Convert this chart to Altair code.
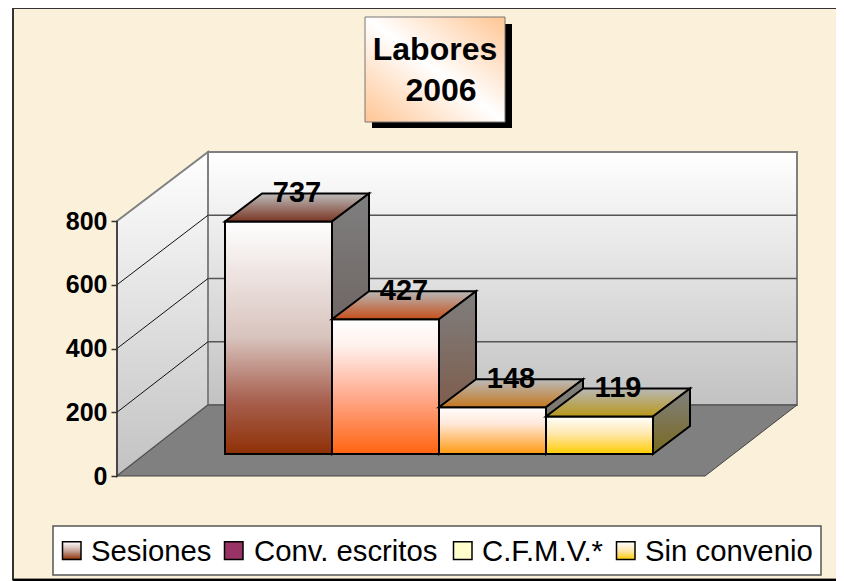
import altair as alt
import pandas as pd

categories = ["Sesiones", "Conv. escritos", "C.F.M.V.*", "Sin convenio"]
shown_labels = ["737", "427", "148", "119"]
values = [737, 427, 148, 119]
ticks = [0, 200, 400, 600, 800]

FONT = "Liberation Sans"
W, H = 828, 573
PX = 800 / 255  # value units per pixel
V_BOTTOM = (476 - 581) * PX
V_TOP = (476 - 8) * PX
xs = alt.Scale(domain=[8, 836], range=[0, W], nice=False, zero=False)
ys = alt.Scale(domain=[V_BOTTOM, V_TOP], nice=False, zero=False)
AX = alt.Axis(values=ticks, offset=-109, domain=False, grid=False, zindex=1, tickColor="#333333",
              tickSize=6, tickWidth=1.5, labelFont=FONT, labelFontWeight="bold", labelFontSize=25,
              labelColor="black", labelPadding=4, labelOverlap=False, title=None)
NX = alt.X("x:Q", scale=xs, axis=None)
NY = alt.Y("y:Q", scale=ys, axis=AX)
X0, BAND, BASE = 225, 107, (476 - 454) * PX
BDX, BDV = 37, 28 * PX
DEPTH_SHRINK = 0.99  # bars stand further back than the front axis
back = lambda v: 71 * PX + v * 253 / 255


def grad(*stops, x1=0, y1=0, x2=0, y2=1):
    return {"gradient": "linear", "x1": x1, "y1": y1, "x2": x2, "y2": y2,
            "stops": [{"offset": o, "color": c} for o, c in stops]}


def vert(rows, fill, stroke, sw=2):
    df = pd.DataFrame(rows, columns=["x", "y", "y2"])
    return alt.Chart(df).mark_area(orient="vertical", fill=fill, stroke=stroke, strokeWidth=sw,
                                   strokeJoin="miter", line=False).encode(x=NX, y=NY, y2="y2:Q")


def horiz(rows, fill, stroke, sw=2):
    df = pd.DataFrame(rows, columns=["y", "x", "x2"])
    return alt.Chart(df).mark_area(orient="horizontal", fill=fill, stroke=stroke, strokeWidth=sw,
                                   strokeJoin="miter", line=False).encode(y=NY, x=NX, x2="x2:Q")


one = pd.DataFrame({"k": [0]})


def box(x, x2, y, y2, **kw):
    return alt.Chart(one).mark_rect(**kw).encode(
        x=alt.value(x - 8), x2=alt.value(x2 - 8), y=alt.value(y - 8), y2=alt.value(y2 - 8))


def label(t, x, y, size, weight="normal", align="left"):
    return alt.Chart(one).mark_text(text=t, font=FONT, fontSize=size, fontWeight=weight, align=align,
                                    baseline="alphabetic", color="black").encode(
        x=alt.value(x - 8), y=alt.value(y - 8))


layers = []

# Frame
layers.append(box(13, 870, 8, 579.5, fill="#FBF0DA", stroke="#333333", strokeWidth=2))
layers.append(box(13, 870, 579, 581, fill="#000000"))

# Back wall, left wall and floor
wall_fill = grad((0, "#ffffff"), (1, "#c2c2c2"))
layers.append(vert([[208, back(800), back(0)], [797, back(800), back(0)]], wall_fill, "#808080", 2))
layers.append(vert([[117, 800, 0], [208, back(800), back(0)]], wall_fill, "#808080", 2))
grid = pd.DataFrame(
    [{"x": 208, "y": back(t), "t": t} for t in ticks[1:-1]] + [{"x": 797, "y": back(t), "t": t} for t in ticks[1:-1]]
)
layers.append(alt.Chart(grid).mark_line(color="#555555", strokeWidth=1.5).encode(x=NX, y=NY, detail="t:N"))
grid2 = pd.DataFrame(
    [{"x": 117, "y": t, "t": t} for t in ticks[1:-1]] + [{"x": 208, "y": back(t), "t": t} for t in ticks[1:-1]]
)
layers.append(alt.Chart(grid2).mark_line(color="#111111", strokeWidth=1).encode(x=NX, y=NY, detail="t:N"))
layers.append(horiz([[0, 117, 705], [back(0), 208, 797]], "#808080", "#444444", 1))
axis_df = pd.DataFrame({"x": [117, 117], "y": [0, 800]})
layers.append(alt.Chart(axis_df).mark_line(color="#333333", strokeWidth=1.5).encode(x=NX, y=NY))

# Bars
faces = [
    (grad((0, "#ffffff"), (.5, "#d8c3bd"), (.77, "#a8604f"), (1, "#8f3006")),
     grad((0, "#bdbdbd"), (1, "#7a3624")), grad((0, "#7f7f7f"), (1, "#5f4d48"))),
    (grad((0, "#ffffff"), (.2, "#fff0ec"), (.6, "#ffa585"), (1, "#ff6410")),
     grad((0, "#b8b8b8"), (1, "#c64f1a")), grad((0, "#7f7f7f"), (1, "#7e5038"))),
    (grad((0, "#ffffff"), (.35, "#ffe8da"), (1, "#ff9a10")),
     grad((0, "#bbbbbb"), (1, "#c4771f")), grad((0, "#808080"), (1, "#7a6a55"))),
    (grad((0, "#ffffff"), (.45, "#ffe8b0"), (1, "#ffcc00")),
     grad((0, "#b8b8b8"), (1, "#b8981a")), grad((0, "#808080"), (1, "#7a6a20"))),
]
for i, (cat, v) in enumerate(zip(categories, values)):
    l, r = X0 + i * BAND, X0 + (i + 1) * BAND
    top_v = BASE + v * DEPTH_SHRINK
    front, top, side = faces[i]
    layers.append(vert([[l, top_v, BASE], [r, top_v, BASE]], front, "black"))
    layers.append(horiz([[top_v, l, r], [top_v + BDV, l + BDX, r + BDX]], top, "black"))
    layers.append(vert([[r, top_v, BASE], [r + BDX, top_v + BDV, BASE + BDV]], side, "black"))

text_df = pd.DataFrame({
    "x": [X0 + (i + .5) * BAND + BDX / 2 for i in range(4)],
    "y": [BASE + v * DEPTH_SHRINK + BDV for v in values],
    "t": shown_labels,
})
layers.append(alt.Chart(text_df).mark_text(font=FONT, fontSize=29, fontWeight="bold", color="black",
                                           baseline="middle", align="center").encode(x=NX, y=NY, text="t:N"))

# Title box
layers.append(box(372, 512, 24, 128, fill="#000000"))
layers.append(box(365, 505, 17, 122, stroke="#777777", strokeWidth=1,
                  fill=grad((0, "#ffc593"), (.5, "#ffffff"), (1, "#ffc593"), x1=0, y1=1, x2=1, y2=0)))
layers.append(label("Labores", 435, 60, 32, "bold", "center"))
layers.append(label("2006", 441, 101, 32, "bold", "center"))

# Legend
layers.append(box(53, 821, 526, 575, fill="#ffffff", stroke="#555555", strokeWidth=1.5))
swatches = [
    (62.5, grad((0, "#ffffff"), (.5, "#c9a79c"), (1, "#8f3006")), 91),
    (224.5, "#993366", 254),
    (453.5, "#ffffcc", 482),
    (616.5, grad((0, "#ffffff"), (.5, "#ffe8b0"), (1, "#ffcc00")), 645),
]
for (sx, sf, tx), cat in zip(swatches, categories):
    layers.append(box(sx, sx + 18.5, 541.7, 559.5, fill=sf, stroke="black", strokeWidth=1.5))
    layers.append(label(cat, tx, 561, 29.3))

chart = alt.layer(*layers).properties(
    width=W, height=H, padding=0, background="#ffffff",
    autosize=alt.AutoSizeParams(type="none"),
).configure_view(stroke=None)

chart.save("out.html", embed_options={"renderer": "svg", "actions": False})
